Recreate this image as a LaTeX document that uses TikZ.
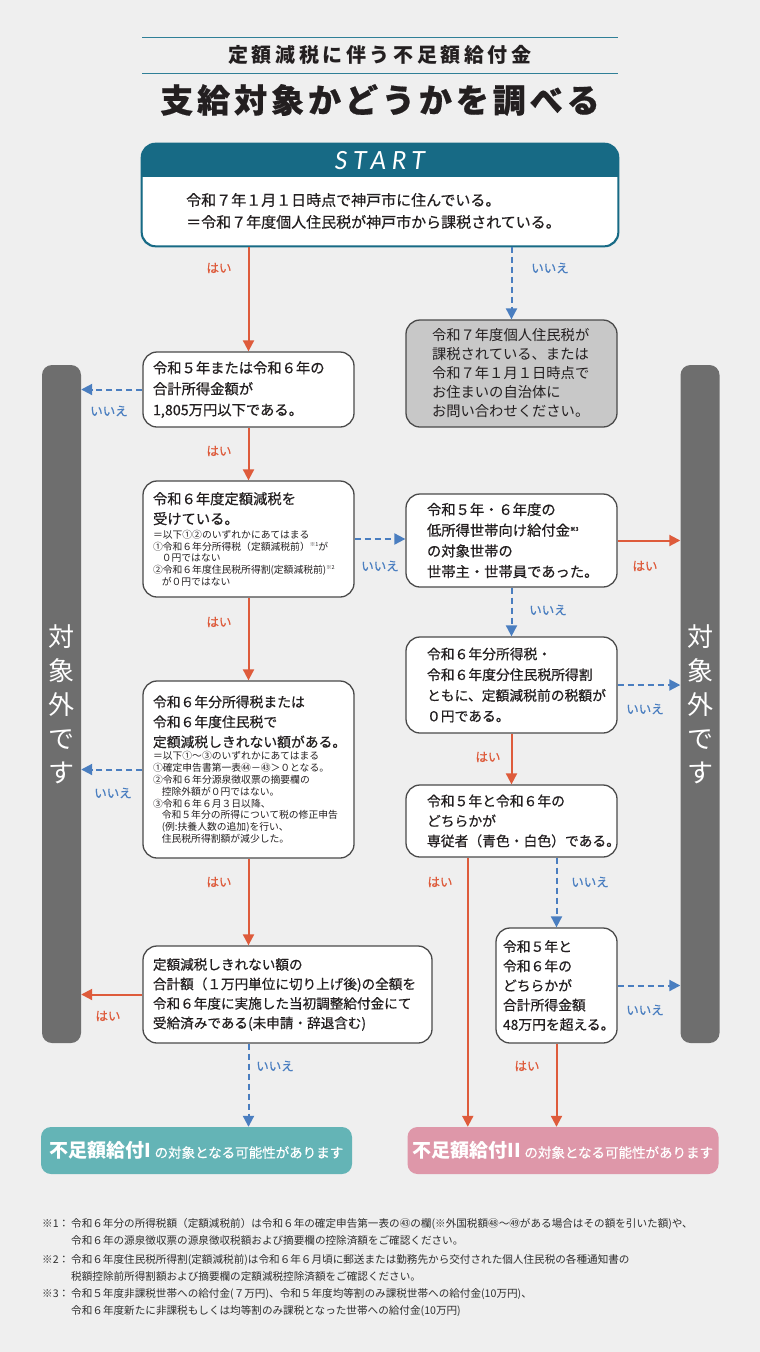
\documentclass[tikz,border=0pt]{standalone}
\usepackage{fontspec}
\setmainfont{Noto Sans CJK JP}
\newfontfamily\lat{Lato}
\usetikzlibrary{arrows.meta,calc}
\definecolor{bg}{HTML}{EFEFEF}
\definecolor{ink}{HTML}{231F20}
\definecolor{teal}{HTML}{176A85}
\definecolor{titleline}{HTML}{2F7F97}
\definecolor{myred}{HTML}{DE5B3B}
\definecolor{myblue}{HTML}{4A7EC0}
\definecolor{boxline}{HTML}{4A4A4A}
\definecolor{grayfill}{HTML}{C8C8C8}
\definecolor{barfill}{HTML}{6E6E6E}
\definecolor{banteal}{HTML}{64B4B6}
\definecolor{banpink}{HTML}{DE97A9}
\definecolor{notecol}{HTML}{2E2E2E}
\newcommand\fs[2]{\fontsize{#1}{#2}\selectfont}
\newcommand\mbf{\addfontfeature{FakeBold=0.5}}
\newcommand\supmark[1]{\raisebox{0.6ex}{\fs{5.5}{5.5}#1}}
\begin{document}
\begin{tikzpicture}[x=1pt,y=-1pt,
  box/.style={draw=boxline, line width=1.3pt, fill=white, rounded corners=14pt,
    inner xsep=10pt, inner ysep=0pt, align=left, text=ink},
  yesline/.style={draw=myred, line width=2pt, -{Triangle[width=11pt,length=11pt]}},
  noline/.style={draw=myblue, line width=2pt, dash pattern=on 6pt off 4pt,
    -{Triangle[width=11pt,length=11pt]}},
  yeslab/.style={text=myred, font=\fs{12.5}{12.5}\mbf},
  nolab/.style={text=myblue, font=\fs{12.5}{12.5}\mbf},
  sidebar/.style={fill=barfill, rounded corners=10pt, minimum width=39pt,
    minimum height=678pt, inner sep=0pt, text=white, align=center,
    font=\fs{26}{34}},
  banner/.style={rounded corners=10pt, minimum width=311pt, minimum height=47pt,
    inner sep=0pt, text=white},
  note/.style={anchor=west, align=left, text=notecol, font=\fs{10.6}{17}, inner sep=0pt}
]
\useasboundingbox (0,0) rectangle (760,1352);
\fill[bg] (0,0) rectangle (760,1352);

% title
\draw[titleline, line width=1pt] (142,37) -- (618,37);
\draw[titleline, line width=1pt] (142,73) -- (618,73);
\node[text=ink, font=\bfseries\fs{20}{20}\addfontfeature{LetterSpace=18}] (t1) at (380,55) {定額減税に伴う不足額給付金};
\node[text=ink, font=\bfseries\fs{33}{33}\addfontfeature{LetterSpace=12,FakeBold=0.6}] (t2) at (380,100) {支給対象かどうかを調べる};

% start box
\node[draw=teal, line width=1.3pt, fill=white, rounded corners=14pt,
  minimum width=476pt, minimum height=102pt, inner sep=0pt] (start) at (380,195) {};
\begin{scope}
\clip[rounded corners=14pt] (start.south west) rectangle (start.north east);
\fill[teal] (start.north west) rectangle ($(start.north east)+(0,34)$);
\end{scope}
\draw[teal, line width=1.3pt, rounded corners=14pt] (start.south west) rectangle (start.north east);
\node[text=white, font=\lat\itshape\fs{25}{25}\addfontfeature{LetterSpace=22}] (starttxt) at (380,161) {START};
\node[anchor=west, align=left, text=ink, font=\fs{15}{22}\mbf, inner sep=0pt] (starttext) at (186,211)
  {令和７年１月１日時点で神戸市に住んでいる。\\＝令和７年度個人住民税が神戸市から課税されている。};

% side bars
\node[sidebar] (lbar) at (61.5,704) {対\\象\\外\\で\\す};
\node[sidebar] (rbar) at (700,704) {対\\象\\外\\で\\す};

% left column
\node[box, text width=191pt, minimum height=75pt, font=\fs{14.3}{21}\mbf] (a) at (248.5,389.5)
  {令和５年または令和６年の\\合計所得金額が\\1,805万円以下である。};

\node[box, text width=191pt, minimum height=116pt] (b) at (248.5,539)
  {{\mbf\fs{14.3}{20}令和６年度定額減税を\\受けている。\par}\vspace{3pt}
   \fs{9.8}{11.5}＝以下①②のいずれかにあてはまる\\
   ①令和６年分所得税（定額減税前）\supmark{※1}が\\
   \hspace*{0.9em}０円ではない\\
   ②令和６年度住民税所得割(定額減税前)\supmark{※2}\\
   \hspace*{0.9em}が０円ではない};

\node[box, text width=191pt, minimum height=177pt] (c) at (248.5,769.5)
  {{\mbf\fs{13.8}{20}令和６年分所得税または\\令和６年度住民税で\\定額減税しきれない額がある。\par}\vspace{1pt}
   \fs{9.8}{11.8}＝以下①～③のいずれかにあてはまる\\
   ①確定申告書第一表㊹－㊸＞０となる。\\
   ②令和６年分源泉徴収票の摘要欄の\\
   \hspace*{0.9em}控除外額が０円ではない。\\
   ③令和６年６月３日以降、\\
   \hspace*{0.9em}令和５年分の所得について税の修正申告\\
   \hspace*{0.9em}(例:扶養人数の追加)を行い、\\
   \hspace*{0.9em}住民税所得割額が減少した。};

\node[box, text width=269pt, minimum height=97pt, font=\fs{13.6}{19.5}\mbf] (d) at (287.5,994.5)
  {定額減税しきれない額の\\合計額（１万円単位に切り上げ後)の全額を\\令和６年度に実施した当初調整給付金にて\\受給済みである(未申請・辞退含む)};

% right column
\node[box, fill=grayfill, inner xsep=26pt, text width=159pt, minimum height=107pt, font=\fs{14.3}{19}] (gray) at (511.5,373.5)
  {令和７年度個人住民税が\\課税されている、または\\令和７年１月１日時点で\\お住まいの自治体に\\お問い合わせください。};

\node[box, inner xsep=21pt, text width=169pt, minimum height=93pt, font=\fs{14.3}{20.7}\mbf] (e) at (511.5,540.5)
  {令和５年・６年度の\\低所得世帯向け給付金\supmark{※3}\\の対象世帯の\\世帯主・世帯員であった。};

\node[box, inner xsep=21pt, text width=169pt, minimum height=96pt, font=\fs{13.8}{20.7}\mbf] (f) at (511.5,685)
  {令和６年分所得税・\\令和６年度分住民税所得割\\ともに、定額減税前の税額が\\０円である。};

\node[box, inner xsep=21pt, text width=169pt, minimum height=72pt, font=\fs{13.8}{20}\mbf] (g) at (511.5,821)
  {令和５年と令和６年の\\どちらかが\\専従者（青色・白色）である。};

\node[box, inner xsep=7pt, text width=107pt, minimum height=115pt, font=\fs{13.8}{19.5}\mbf] (h) at (556.5,985.5)
  {令和５年と\\令和６年の\\どちらかが\\合計所得金額\\48万円を超える。};

% banners
\node[banner, fill=banteal] (ban1) at (196.5,1150.5)
  {{\bfseries\fs{19}{19}不足額給付I\,}{\fs{13.5}{13.5}\mbf の対象となる可能性があります}};
\node[banner, fill=banpink] (ban2) at (563,1150.5)
  {{\bfseries\fs{19}{19}不足額給付II\,}{\fs{13.5}{13.5}\mbf の対象となる可能性があります}};

% connectors
\draw[yesline] (a.north |- start.south) -- (a.north);
\node[yeslab] (l1) at (219,268) {はい};
\draw[noline] (gray.north |- start.south) -- (gray.north);
\node[nolab] (l2) at (550,268) {いいえ};
\draw[noline] (a.west) -- (a.west -| lbar.east);
\node[nolab] (l3) at (109,411) {いいえ};
\draw[yesline] (a.south) -- (b.north);
\node[yeslab] (l4) at (219,451) {はい};
\draw[noline] (b.east) -- (e.west |- b.east);
\node[nolab] (l5) at (380,566) {いいえ};
\draw[yesline] (b.south) -- (c.north);
\node[yeslab] (l6) at (219,622) {はい};
\draw[yesline] (e.east) -- (e.east -| rbar.west);
\node[yeslab] (l7) at (645,566) {はい};
\draw[noline] (e.south) -- (f.north);
\node[nolab] (l8) at (548,610) {いいえ};
\draw[noline] (f.east) -- (f.east -| rbar.west);
\node[nolab] (l9) at (645,709) {いいえ};
\draw[yesline] (f.south) -- (g.north);
\node[yeslab] (l10) at (488,757) {はい};
\draw[noline] (c.west) -- (c.west -| lbar.east);
\node[nolab] (l11) at (113,793) {いいえ};
\draw[yesline] (c.south) -- (c.south |- d.north);
\node[yeslab] (l12) at (219,882) {はい};
\draw[yesline] (d.west) -- (d.west -| lbar.east);
\node[yeslab] (l13) at (108,1016) {はい};
\draw[noline] (c.south |- d.south) -- (c.south |- ban1.north);
\node[nolab] (l14) at (275,1066) {いいえ};
\coordinate (gyes) at ($(g.south west)!0.294!(g.south east)$);
\draw[yesline] (gyes) -- (gyes |- ban2.north);
\node[yeslab] (l15) at (440,882) {はい};
\draw[noline] (h.north |- g.south) -- (h.north);
\node[nolab] (l16) at (590,882) {いいえ};
\draw[noline] (h.east) -- (h.east -| rbar.west);
\node[nolab] (l17) at (645,1010) {いいえ};
\draw[yesline] (h.south) -- (h.south |- ban2.north);
\node[yeslab] (l18) at (527,1066) {はい};

% footnotes
\node[note] (n1) at (42,1232)
  {\makebox[29pt][l]{※1：}令和６年分の所得税額（定額減税前）は令和６年の確定申告第一表の㊸の欄(※外国税額㊽～㊾がある場合はその額を引いた額)や、\\
   \hspace*{29pt}令和６年の源泉徴収票の源泉徴収税額および摘要欄の控除済額をご確認ください。};
\node[note] (n2) at (42,1268)
  {\makebox[29pt][l]{※2：}令和６年度住民税所得割(定額減税前)は令和６年６月頃に郵送または勤務先から交付された個人住民税の各種通知書の\\
   \hspace*{29pt}税額控除前所得割額および摘要欄の定額減税控除済額をご確認ください。};
\node[note] (n3) at (42,1302.5)
  {\makebox[29pt][l]{※3：}令和５年度非課税世帯への給付金(７万円)、令和５年度均等割のみ課税世帯への給付金(10万円)、\\
   \hspace*{29pt}令和６年度新たに非課税もしくは均等割のみ課税となった世帯への給付金(10万円)};
\end{tikzpicture}
\end{document}
